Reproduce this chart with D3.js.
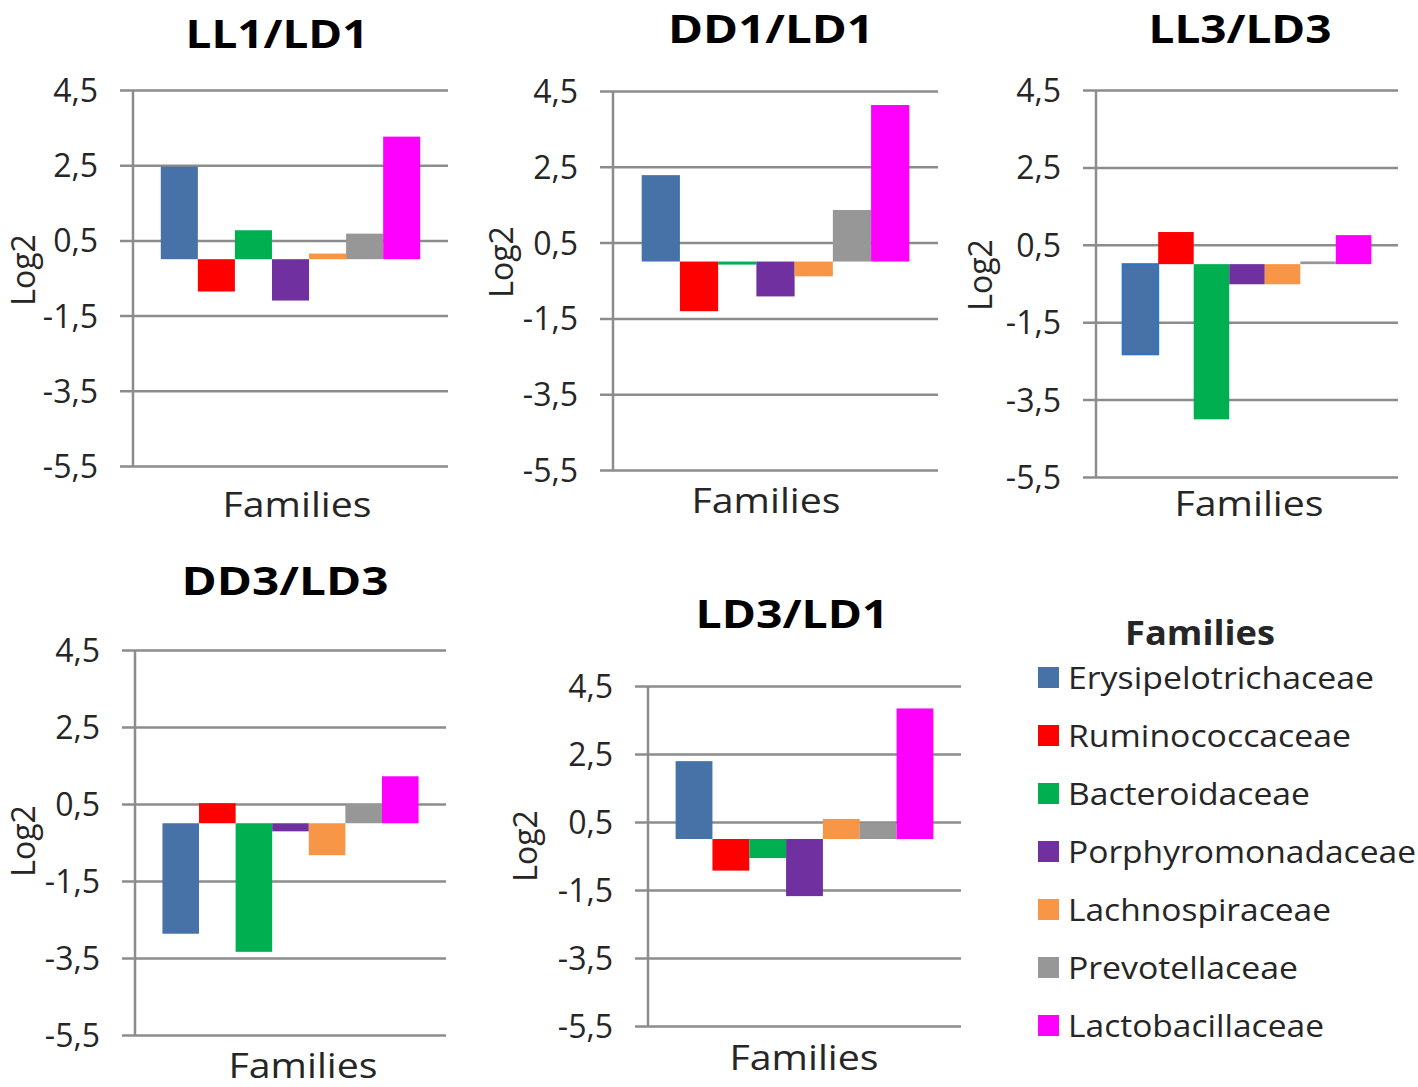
<!DOCTYPE html>
<html><head><meta charset="utf-8">
<script src="https://cdn.jsdelivr.net/npm/d3@7"></script>
<style>body{margin:0;background:#fff} svg{display:block}</style>
</head><body>
<svg id="c" width="1418" height="1087"></svg>
<script>
// ---------- data ----------
const families = ["Erysipelotrichaceae","Ruminococcaceae","Bacteroidaceae","Porphyromonadaceae","Lachnospiraceae","Prevotellaceae","Lactobacillaceae"];
const familyColors = ["#4672a8","#ff0000","#00b050","#7030a0","#f79646","#979797","#ff00ff"];
const panelTitles = ["LL1/LD1","DD1/LD1","LL3/LD3","DD3/LD3","LD3/LD1"];
const valuesLL1_LD1 = [2.46,-0.86,0.77,-1.10,0.15,0.68,3.26];
const valuesDD1_LD1 = [2.28,-1.31,-0.08,-0.92,-0.39,1.36,4.13];
const valuesLL3_LD3 = [-2.33,0.83,-4.01,-0.52,-0.52,0.07,0.75];
const valuesDD3_LD3 = [-2.87,0.52,-3.34,-0.21,-0.83,0.50,1.22];
const valuesLD3_LD1 = [2.29,-0.93,-0.56,-1.68,0.59,0.48,3.84];
const yTickValues = [-5.5,-3.5,-1.5,0.5,2.5,4.5];
const yDomain = [-5.5,4.5];
const yAxisTitle = "Log2";
const xAxisTitle = "Families";
const legendTitle = "Families";

const panelValues = [valuesLL1_LD1, valuesDD1_LD1, valuesLL3_LD3, valuesDD3_LD3, valuesLD3_LD1];

// ---------- layout ----------
const layout = [
  {tickLeft:120, axisX:133, right:448, yTop:90, yBot:466, titleX:277, titleY:48, titleW:183, famX:297, famY:517, logX:35, logY:270},
  {tickLeft:600, axisX:613, right:938, yTop:91, yBot:470, titleX:771, titleY:43, titleW:206, famX:766, famY:513, logX:513, logY:262},
  {tickLeft:1083, axisX:1096, right:1398, yTop:90, yBot:477, titleX:1240, titleY:43, titleW:183, famX:1249, famY:516, logX:992, logY:275, outlineFirst:true},
  {tickLeft:122, axisX:135, right:446, yTop:650, yBot:1035, titleX:285, titleY:595, titleW:207, famX:303, famY:1078, logX:35, logY:841},
  {tickLeft:635, axisX:648, right:961, yTop:686, yBot:1026, titleX:792, titleY:628, titleW:193, famX:804, famY:1070, logX:537, logY:846}
];
const FONT = "'Open Sans', 'DejaVu Sans', sans-serif";
const gridColor = "#8c8c8c";
const textColor = "#262626";

const locale = d3.formatLocale({decimal:",", thousands:".", grouping:[3], currency:["",""], minus:"-"});
const fmt = locale.format(".1f");

const svg = d3.select("#c");

panelValues.forEach((vals, i) => {
  const L = layout[i];
  const g = svg.append("g");
  const x = d3.scaleBand().domain(families).range([L.axisX, L.right]).paddingInner(0).paddingOuter(0.75);
  const y = d3.scaleLinear().domain(yDomain).range([L.yBot, L.yTop]);

  const axis = d3.axisLeft(y).tickValues(yTickValues)
    .tickSizeInner(-(L.right - L.tickLeft)).tickSizeOuter(0).tickPadding(22).tickFormat(fmt);
  g.append("g").attr("transform", `translate(${L.tickLeft},0)`).call(axis)
    .call(s => s.select(".domain").remove())
    .call(s => s.selectAll(".tick line").attr("stroke", gridColor).attr("stroke-width", 2.5))
    .call(s => s.selectAll(".tick text").attr("font-family", FONT).attr("font-size", 32)
      .attr("fill", textColor).attr("dy", "0.36em"));

  g.append("line").attr("x1", L.axisX).attr("x2", L.axisX)
    .attr("y1", y(yDomain[1])).attr("y2", y(yDomain[0]))
    .attr("stroke", gridColor).attr("stroke-width", 2.5);

  g.selectAll("rect.bar").data(vals).join("rect").attr("class","bar")
    .attr("x", (d, j) => x(families[j]))
    .attr("width", x.bandwidth())
    .attr("y", d => y(Math.max(0, d)))
    .attr("height", d => Math.abs(y(d) - y(0)))
    .attr("fill", (d, j) => familyColors[j])
    .attr("stroke", (d, j) => (L.outlineFirst && j === 0) ? "#2e75c6" : "none")
    .attr("stroke-width", 2);

  g.append("text").text(panelTitles[i])
    .attr("x", L.titleX).attr("y", L.titleY).attr("text-anchor", "middle")
    .attr("font-family", FONT).attr("font-weight", "bold").attr("font-size", 40)
    .attr("textLength", L.titleW).attr("lengthAdjust", "spacingAndGlyphs").attr("fill", "#000");

  g.append("text").text(xAxisTitle)
    .attr("x", L.famX).attr("y", L.famY).attr("text-anchor", "middle")
    .attr("font-family", FONT).attr("font-size", 35)
    .attr("textLength", 149).attr("lengthAdjust", "spacingAndGlyphs").attr("fill", textColor);

  g.append("text").text(yAxisTitle)
    .attr("transform", `translate(${L.logX},${L.logY}) rotate(-90)`)
    .attr("text-anchor", "middle")
    .attr("font-family", FONT).attr("font-size", 32).attr("fill", textColor);
});

// ---------- legend ----------
const legendRowY = d3.scalePoint().domain(families).range([678, 1026]);
const legendTextW = [306, 283, 242, 348, 263, 230, 256];
const lg = svg.append("g");
lg.append("text").text(legendTitle).attr("x", 1200).attr("y", 645).attr("text-anchor", "middle")
  .attr("font-family", FONT).attr("font-weight", "bold").attr("font-size", 34)
  .attr("textLength", 150).attr("lengthAdjust", "spacingAndGlyphs").attr("fill", textColor);
families.forEach((f, j) => {
  const cy = legendRowY(f);
  lg.append("rect").attr("x", 1038).attr("y", cy - 11).attr("width", 21).attr("height", 21)
    .attr("fill", familyColors[j]);
  lg.append("text").text(f).attr("x", 1068).attr("y", cy + 11)
    .attr("font-family", FONT).attr("font-size", 31).attr("fill", textColor)
    .attr("textLength", legendTextW[j]).attr("lengthAdjust", "spacingAndGlyphs");
});
</script>
</body></html>
